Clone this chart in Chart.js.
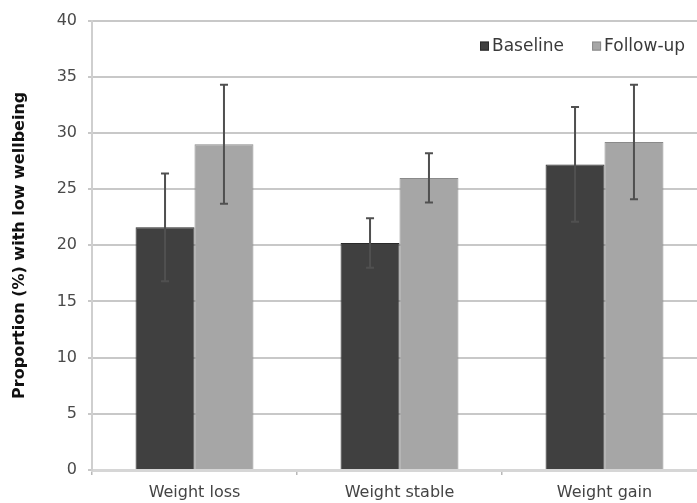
<!DOCTYPE html>
<html>
<head>
<meta charset="utf-8">
<script src="https://cdn.jsdelivr.net/npm/chart.js@4.4.0/dist/chart.umd.min.js"></script>
<style>
  html, body { margin: 0; padding: 0; background: #fff; overflow: hidden; }
  #wrap { width: 697px; height: 503px; overflow: hidden; position: relative; }
  #box { width: 715px; height: 503px; }
</style>
</head>
<body>
<div id="wrap"><div id="box"><canvas id="c"></canvas></div></div>
<script>
// Share of people with low wellbeing by weight-change group (%), with error bars
const categories = ['Weight loss', 'Weight stable', 'Weight gain'];
const seriesNames = ['Baseline', 'Follow-up'];
const baseline = [21.6, 20.2, 27.2];
const baselineErr = [4.8, 2.2, 5.1];
const followUp = [29.0, 26.0, 29.2];
const followUpErr = [5.3, 2.2, 5.1];
const yTickValues = [0, 5, 10, 15, 20, 25, 30, 35, 40];

const FONT = 'DejaVu Sans';

// Whiskers drawn from each bar's value +/- its error
const errorBars = {
  id: 'errorBars',
  afterDatasetsDraw(chart) {
    const ctx = chart.ctx;
    const y = chart.scales.y;
    chart.data.datasets.forEach((ds, di) => {
      const meta = chart.getDatasetMeta(di);
      meta.data.forEach((bar, i) => {
        const v = ds.data[i], e = ds.errors[i];
        const top = y.getPixelForValue(v + e);
        const bot = y.getPixelForValue(v - e);
        ctx.save();
        ctx.strokeStyle = '#505050';
        ctx.lineWidth = 2;
        ctx.beginPath();
        ctx.moveTo(bar.x, top); ctx.lineTo(bar.x, bot);
        ctx.moveTo(bar.x - 4, top); ctx.lineTo(bar.x + 4, top);
        ctx.moveTo(bar.x - 4, bot); ctx.lineTo(bar.x + 4, bot);
        ctx.stroke();
        ctx.restore();
      });
    });
  }
};

// Compact legend inside the top-right of the plot
const innerLegend = {
  id: 'innerLegend',
  afterDraw(chart) {
    const ctx = chart.ctx;
    const area = chart.chartArea;
    let x = area.left + 388;
    const cy = area.top + 25.5;
    ctx.save();
    ctx.font = '17px "' + FONT + '"';
    ctx.textBaseline = 'middle';
    ctx.textAlign = 'left';
    chart.data.datasets.forEach((ds) => {
      ctx.fillStyle = ds.backgroundColor;
      ctx.strokeStyle = ds.borderColor;
      ctx.lineWidth = 1;
      ctx.fillRect(x, cy - 4.5, 9, 9);
      ctx.strokeRect(x + 0.5, cy - 4, 8, 8);
      ctx.fillStyle = '#3a3a3a';
      ctx.fillText(ds.label, x + 12, cy);
      x += 12 + ctx.measureText(ds.label).width + 28;
    });
    ctx.restore();
  }
};

new Chart(document.getElementById('c'), {
  type: 'bar',
  data: {
    labels: categories,
    datasets: [
      {
        label: seriesNames[0],
        data: baseline,
        errors: baselineErr,
        backgroundColor: '#404040',
        borderColor: '#2a2a2a',
        borderWidth: 1,
        categoryPercentage: 0.575,
        barPercentage: 1.0
      },
      {
        label: seriesNames[1],
        data: followUp,
        errors: followUpErr,
        backgroundColor: '#a6a6a6',
        borderColor: '#8a8a8a',
        borderWidth: 1,
        categoryPercentage: 0.575,
        barPercentage: 1.0
      }
    ]
  },
  options: {
    responsive: true,
    maintainAspectRatio: false,
    animation: false,
    devicePixelRatio: 1,
    layout: { padding: { top: 20, right: 8, left: 0, bottom: 0 } },
    plugins: {
      legend: { display: false },
      tooltip: { enabled: false }
    },
    scales: {
      x: {
        offset: true,
        grid: {
          offset: true,
          drawOnChartArea: false,
          drawTicks: true,
          tickLength: 5,
          color: '#b8b8b8',
          lineWidth: 1.5
        },
        border: { color: '#d6d6d6', width: 3 },
        ticks: {
          color: '#444',
          padding: 8,
          font: { family: FONT, size: 16 }
        },
        afterFit(scale) { scale.height = 33; }
      },
      y: {
        min: yTickValues[0],
        max: yTickValues[yTickValues.length - 1],
        afterBuildTicks(scale) {
          scale.ticks = yTickValues.map(v => ({ value: v }));
        },
        grid: {
          color: '#c8c8c8',
          lineWidth: 2,
          tickLength: 4
        },
        border: { color: '#cfcfcf', width: 2 },
        ticks: {
          color: '#4a4a4a',
          padding: 11,
          font: { family: FONT, size: 16 }
        },
        title: {
          display: true,
          text: 'Proportion (%) with low wellbeing',
          color: '#111',
          padding: { top: 10, bottom: 0 },
          font: { family: FONT, size: 16, weight: 'bold' }
        },
        afterFit(scale) { scale.width = 92; }
      }
    }
  },
  plugins: [errorBars, innerLegend]
});
</script>
</body>
</html>
